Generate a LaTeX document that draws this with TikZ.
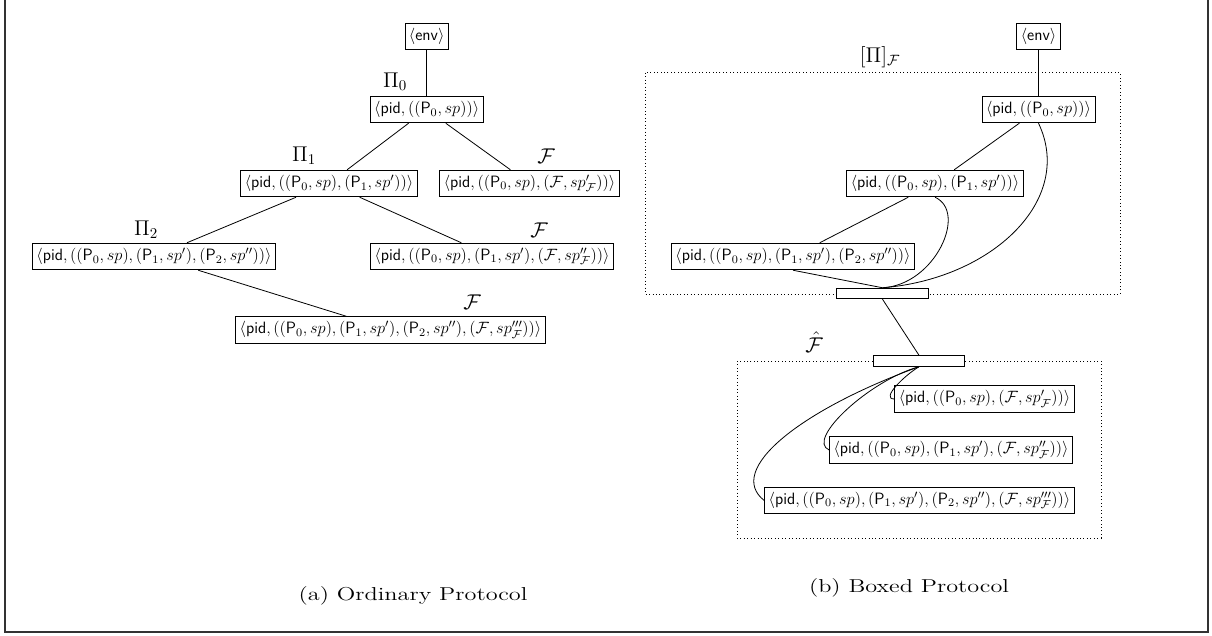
\documentclass[tikz,border=0pt]{standalone}
\usepackage{fix-cm}
\usepackage{amsmath}
\usepackage{graphicx}
\begin{document}
\begin{tikzpicture}[x=0.75pt,y=-0.75pt,
  pnode/.style={draw, line width=0.6pt, font=\fontsize{12.3}{14}\selectfont, inner xsep=3pt, inner ysep=0pt, minimum height=20pt},
  lbl/.style={font=\fontsize{16}{19}\selectfont, inner sep=0pt},
  captext/.style={font=\fontsize{14}{17}\selectfont, inner sep=0pt},
  barbox/.style={draw, line width=0.6pt, minimum width=68.5pt, minimum height=8pt, inner sep=0pt},
  conn/.style={line width=0.6pt},
  dotbox/.style={dotted, line width=0.6pt}]
\useasboundingbox (0,0) rectangle (1212,635);
% frame
\draw[line width=1pt, black!80] (5,0) -- (5,632) -- (1208,632) -- (1208,0);

% ---------- (a) ordinary protocol ----------
\node[pnode] (env) at (426.7,36.5) {$\langle\textsf{env}\rangle$};
\node[pnode] (p0) at (426.7,109.5) {$\langle\textsf{pid},((\textsf{P}_0,sp))\rangle$};
\node[pnode] (p1) at (329,183.5) {$\langle\textsf{pid},((\textsf{P}_0,sp),(\textsf{P}_1,sp'))\rangle$};
\node[pnode] (f0) at (529.5,183.5) {$\langle\textsf{pid},((\textsf{P}_0,sp),(\mathcal{F},sp'_{\mathcal{F}}))\rangle$};
\node[pnode] (p2) at (154,256.5) {$\langle\textsf{pid},((\textsf{P}_0,sp),(\textsf{P}_1,sp'),(\textsf{P}_2,sp''))\rangle$};
\node[pnode] (f1) at (492,256.5) {$\langle\textsf{pid},((\textsf{P}_0,sp),(\textsf{P}_1,sp'),(\mathcal{F},sp''_{\mathcal{F}}))\rangle$};
\node[pnode] (f2) at (390.5,330) {$\langle\textsf{pid},((\textsf{P}_0,sp),(\textsf{P}_1,sp'),(\textsf{P}_2,sp''),(\mathcal{F},sp'''_{\mathcal{F}}))\rangle$};

\node[lbl] (l0) at (395,82) {$\Pi_0$};
\node[lbl] (l1) at (304,156) {$\Pi_1$};
\node[lbl] (l2) at (146,230) {$\Pi_2$};
\node[lbl] (lf0) at (546,156) {$\mathcal{F}$};
\node[lbl] (lf1) at (539,230) {$\mathcal{F}$};
\node[lbl] (lf2) at (472,302) {$\mathcal{F}$};

\draw[conn] (env) -- (p0);
\draw[conn] (p0) -- (p1);
\draw[conn] (p0) -- (f0);
\draw[conn] (p1) -- (p2);
\draw[conn] (p1) -- (f1);
\draw[conn] (p2) -- (f2);

\node[captext] (capa) at (413,595.5) {\scalebox{1.3}[1]{(a) Ordinary Protocol}};

% ---------- (b) boxed protocol ----------
\draw[dotbox] (645,72.7) rectangle (1120,294);
\draw[dotbox] (737,361) rectangle (1101,538);

\node[pnode] (renv) at (1038.5,36.5) {$\langle\textsf{env}\rangle$};
\node[pnode] (r0) at (1038.5,109.5) {$\langle\textsf{pid},((\textsf{P}_0,sp))\rangle$};
\node[pnode] (r1) at (935,183.5) {$\langle\textsf{pid},((\textsf{P}_0,sp),(\textsf{P}_1,sp'))\rangle$};
\node[pnode] (r2) at (793,256.5) {$\langle\textsf{pid},((\textsf{P}_0,sp),(\textsf{P}_1,sp'),(\textsf{P}_2,sp''))\rangle$};
\node[barbox, fill=white] (bar1) at (882.5,293.5) {};
\node[barbox, fill=white] (bar2) at (919,361) {};
\node[pnode] (rf0) at (984.5,399) {$\langle\textsf{pid},((\textsf{P}_0,sp),(\mathcal{F},sp'_{\mathcal{F}}))\rangle$};
\node[pnode] (rf1) at (951,450) {$\langle\textsf{pid},((\textsf{P}_0,sp),(\textsf{P}_1,sp'),(\mathcal{F},sp''_{\mathcal{F}}))\rangle$};
\node[pnode] (rf2) at (919.5,500.5) {$\langle\textsf{pid},((\textsf{P}_0,sp),(\textsf{P}_1,sp'),(\textsf{P}_2,sp''),(\mathcal{F},sp'''_{\mathcal{F}}))\rangle$};

\node[lbl] (lpi) at (880,57) {$[\Pi]_{\mathcal{F}}$};
\node[lbl] (lfh) at (814,342) {$\hat{\mathcal{F}}$};

\draw[conn] (renv) -- (r0);
\draw[conn] (r0) -- (r1);
\draw[conn] (r1) -- (r2);
\draw[conn] (r2.south) -- (bar1.north);
\draw[conn] (r1.south) .. controls (968,212) and (935,285) .. (bar1.north);
\draw[conn] (r0.south) .. controls (1075,200) and (992,279) .. (bar1.north);
\draw[conn] (bar1.south) -- (bar2.north);
\draw[conn] (bar2.south) .. controls (905,375) and (880,399) .. (rf0.west);
\draw[conn] (bar2.south) .. controls (870,380) and (805,440) .. (rf1.west);
\draw[conn] (bar2.south) .. controls (800,410) and (725,470) .. (rf2.west);

\node[captext] (capb) at (909,587.5) {\scalebox{1.3}[1]{(b) Boxed Protocol}};
\end{tikzpicture}
\end{document}
